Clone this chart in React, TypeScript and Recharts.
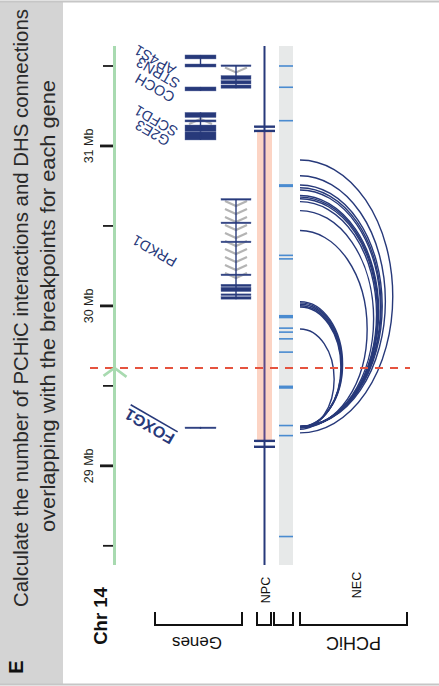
import React from 'react';
import {
  ComposedChart,
  XAxis,
  YAxis,
  Scatter,
  ReferenceArea,
  ReferenceLine,
  ReferenceDot,
} from 'recharts';

// ------------------------------------------------------------------ data
const axisTicks = [28.5, 29, 29.5, 30, 30.5, 31, 31.5];
const axisDomain: [number, number] = [28.38, 31.625];
const breakpointMb = 29.6125;

// genes: name, track column, start (Mb), end (Mb)
const genes = [
  { name: 'AP4S1', col: 0, start: 31.494, end: 31.569 },
  { name: 'STRN3', col: 1, start: 31.3606, end: 31.5025 },
  { name: 'COCH', col: 0, start: 31.344, end: 31.369 },
  { name: 'SCFD1', col: 0, start: 31.091, end: 31.21 },
  { name: 'G2E3', col: 0, start: 31.0375, end: 31.091 },
  { name: 'PRKD1', col: 1, start: 30.0419, end: 30.669 },
  { name: 'FOXG1', col: 0, start: 29.2355, end: 29.2395 },
];

const geneExons = [
  { gene: 'AP4S1', start: 31.544, end: 31.569 },
  { gene: 'AP4S1', start: 31.4935, end: 31.5125 },
  { gene: 'STRN3', start: 31.5005, end: 31.5025 },
  { gene: 'STRN3', start: 31.4156, end: 31.4406 },
  { gene: 'STRN3', start: 31.3875, end: 31.4094 },
  { gene: 'STRN3', start: 31.3606, end: 31.3813 },
  { gene: 'COCH', start: 31.344, end: 31.369 },
  { gene: 'SCFD1', start: 31.178, end: 31.21 },
  { gene: 'SCFD1', start: 31.15, end: 31.163 },
  { gene: 'G2E3', start: 31.09, end: 31.131 },
  { gene: 'G2E3', start: 31.0375, end: 31.088 },
  { gene: 'PRKD1', start: 30.6645, end: 30.6685 },
  { gene: 'PRKD1', start: 30.517, end: 30.521 },
  { gene: 'PRKD1', start: 30.398, end: 30.402 },
  { gene: 'PRKD1', start: 30.192, end: 30.196 },
  { gene: 'PRKD1', start: 30.1206, end: 30.1356 },
  { gene: 'PRKD1', start: 30.0894, end: 30.1169 },
  { gene: 'PRKD1', start: 30.0669, end: 30.0731 },
  { gene: 'PRKD1', start: 30.0419, end: 30.0581 },
  { gene: 'FOXG1', start: 29.2365, end: 29.2385 },
];

// intron regions with strand chevrons (1 = plus, -1 = minus)
const geneIntrons = [
  { gene: 'AP4S1', start: 31.5125, end: 31.544, strand: 1 },
  { gene: 'STRN3', start: 31.4406, end: 31.5005, strand: -1 },
  { gene: 'SCFD1', start: 31.131, end: 31.178, strand: 1 },
  { gene: 'PRKD1', start: 30.1356, end: 30.6645, strand: -1 },
];

const geneLabels = [
  { name: 'AP4S1', mb: 31.5375 },
  { name: 'STRN3', mb: 31.456 },
  { name: 'COCH', mb: 31.3625 },
  { name: 'SCFD1', mb: 31.156 },
  { name: 'G2E3', mb: 31.081 },
  { name: 'PRKD1', mb: 30.344 },
  { name: 'FOXG1', mb: 29.247 },
];

// NPC PCHiC domain
const npcDomain = { start: 29.156, end: 31.094 };
const npcCaps = [31.1206, 31.094, 29.156, 29.119];

// NEC DHS marks
const necDhsMb = [31.5, 31.367, 31.158, 30.752, 30.316, 30.294, 29.933, 29.861, 29.836, 29.794, 29.711, 29.492, 29.252, 29.189, 28.558];
const necDhsWeight = [1.6, 1.6, 1.6, 3, 1.6, 1.6, 3.4, 1.6, 1.6, 1.6, 1.6, 3.2, 1.6, 1.6, 1.6];

// NEC PCHiC interactions (from, to) in Mb
const pchicFrom = [29.206, 29.244, 29.244, 29.246, 29.246, 29.242, 29.244, 29.246, 29.244, 29.242, 29.236, 29.244, 29.246, 29.244, 29.242, 29.24, 29.228];
const pchicTo = [30.9125, 30.814, 30.756, 30.739, 30.725, 30.69, 30.68, 30.67, 30.652, 30.596, 30.471, 30.027, 30.019, 30.01, 30.001, 29.993, 29.856];

// ------------------------------------------------------------------ style / layout
const FONT = '"Liberation Sans", Arial, Helvetica, sans-serif';
const NAVY = '#27397a';
const GREEN = '#a8dab0';
const PINK = '#fcd4c4';
const NEC_GRAY = '#e7e9e9';
const DHS_BLUE = '#4a8bd0';
const RED = '#e5533f';
const CHEV = '#b4b4b4';

const W = 439;
const H = 686;
const AXIS_W = 114.5;
const COLS = [
  { x1: 185, x2: 216 },
  { x1: 221, x2: 251 },
];
const NPC_X = 264.5;
const NPC_BAND = [257, 272];
const CAP = [254, 275];
const NEC_X = [279, 293];
const ARC_X = 300;
const ARC_RATIO = 0.34;

const labelX: Record<string, number> = {
  AP4S1: 155, STRN3: 158, COCH: 155, SCFD1: 156, G2E3: 152.5, PRKD1: 154.5, FOXG1: 149.5,
};

const geneCol: Record<string, number> = {};
genes.forEach((g) => (geneCol[g.name] = g.col));

const necData = necDhsMb.map((mb, i) => ({ x: (NEC_X[0] + NEC_X[1]) / 2, y: mb, w: necDhsWeight[i] }));

// ------------------------------------------------------------------ shapes
const AxisTick = (props: any) => {
  const { x, y, payload } = props;
  const v = payload.value as number;
  const major = Math.abs(v - Math.round(v)) < 1e-6;
  return (
    <g>
      <line
        x1={major ? x - 14.5 : x - 11.5}
        x2={x - 1.5}
        y1={y}
        y2={y}
        stroke="#1a1a1a"
        strokeWidth={major ? 2.8 : 1.8}
      />
      {major && (
        <text
          transform={`translate(${x - 22} ${y}) rotate(-90)`}
          textAnchor="middle"
          fontSize={12.5}
          fontFamily={FONT}
          fill="#231f20"
        >
          {`${v} Mb`}
        </text>
      )}
    </g>
  );
};

const exonShape = (p: any) => {
  const { x, y, width, height } = p;
  const h = Math.max(height, 1.7);
  return <rect x={x} y={y + height / 2 - h / 2} width={width} height={h} fill={NAVY} stroke="#5b6ba0" strokeWidth={0.4} />;
};

const chevronShape = (dir: number) => (p: any) => {
  const { x, y, width, height } = p;
  const step = 8;
  const depth = 5;
  const inset = 4;
  const xl = x + inset;
  const xr = x + width - inset;
  const xm = (xl + xr) / 2;
  let d = '';
  for (let t = y + 1.5; t + depth <= y + height + 0.5; t += step) {
    if (dir < 0) d += `M${xl},${t}L${xm},${t + depth}L${xr},${t}`;
    else d += `M${xl},${t + depth}L${xm},${t}L${xr},${t + depth}`;
  }
  return <path d={d} fill="none" stroke={CHEV} strokeWidth={2.2} />;
};

const arcShape = (p: any) => {
  const { x, y, height } = p;
  const rx = height * ARC_RATIO;
  const ry = height / 2;
  return (
    <path
      d={`M${x},${y + height} A${rx},${ry} 0 0 0 ${x},${y}`}
      fill="none"
      stroke={NAVY}
      strokeWidth={1.4}
    />
  );
};

const necTickShape = (p: any) => {
  const { cy, payload } = p;
  return <rect x={NEC_X[0]} y={cy - payload.w / 2} width={NEC_X[1] - NEC_X[0]} height={payload.w} fill={DHS_BLUE} />;
};

const labelShape = (name: string) => (p: any) => {
  const { cx, cy } = p;
  const bold = name === 'FOXG1';
  return (
    <text
      x={cx}
      y={cy}
      transform={`rotate(210 ${cx} ${cy})`}
      textAnchor="middle"
      dominantBaseline="central"
      fontFamily={FONT}
      fontSize={bold ? 16 : 14.5}
      fontWeight={bold ? 700 : 400}
      fill={NAVY}
      style={bold ? { textDecoration: 'underline' } : undefined}
    >
      {name}
    </text>
  );
};

const breakpointMarker = (p: any) => {
  const { cx, cy } = p;
  return (
    <path
      d={`M${cx - 11},${cy + 8} L${cx},${cy} L${cx + 12},${cy + 9}`}
      fill="none"
      stroke={GREEN}
      strokeWidth={2.6}
    />
  );
};

// ------------------------------------------------------------------ overlay (frame, title, track labels)
const Bracket = ({ x1, x2 }: { x1: number; x2: number }) => (
  <path d={`M${x1},612 V625 H${x2} V612`} fill="none" stroke="#111" strokeWidth={2} />
);

const Overlay = () => (
  <svg width={W} height={H} style={{ position: 'absolute', left: 0, top: 0, pointerEvents: 'none' }}>
    <rect x={0} y={1} width={63} height={684} fill="#d4d4d4" />
    <line x1={0} x2={W} y1={1.5} y2={1.5} stroke="#c6c6c6" strokeWidth={2} />
    <line x1={0} x2={W} y1={684.5} y2={684.5} stroke="#c6c6c6" strokeWidth={2} />
    <g fontFamily={FONT} fill="#2a2a2a">
      <text
        transform="translate(28 308) rotate(-90)"
        textAnchor="middle"
        fontSize={20.5}
        textLength={598}
        lengthAdjust="spacingAndGlyphs"
      >
        Calculate the number of PCHiC interactions and DHS connections
      </text>
      <text
        transform="translate(55 306) rotate(-90)"
        textAnchor="middle"
        fontSize={20.5}
        textLength={452}
        lengthAdjust="spacingAndGlyphs"
      >
        overlapping with the breakpoints for each gene
      </text>
      <text transform="translate(23 667) rotate(-90)" textAnchor="middle" fontSize={20} fontWeight={700} fill="#111">
        E
      </text>
    </g>
    <g fontFamily={FONT} fill="#111">
      <text transform="translate(107 616) rotate(-90)" textAnchor="middle" fontSize={18.5} fontWeight={700}>
        Chr 14
      </text>
      <text transform="translate(270 590) rotate(-90)" textAnchor="middle" fontSize={12.5}>
        NPC
      </text>
      <text transform="translate(361 585) rotate(-90)" textAnchor="middle" fontSize={12.5}>
        NEC
      </text>
      <text transform="translate(197 637) rotate(180)" textAnchor="middle" fontSize={17}>
        Genes
      </text>
      <text transform="translate(353.5 637) rotate(180)" textAnchor="middle" fontSize={18}>
        PCHiC
      </text>
    </g>
    <Bracket x1={155} x2={242} />
    <Bracket x1={257} x2={271} />
    <Bracket x1={274} x2={293} />
    <Bracket x1={300} x2={407} />
  </svg>
);

// ------------------------------------------------------------------ chart
export default function App() {
  return (
    <div style={{ position: 'absolute', left: 0, top: 0, width: W, height: H, background: '#fff' }}>
      <ComposedChart width={W} height={H} margin={{ top: 46, right: 0, bottom: 121, left: 0 }}>
        <XAxis type="number" dataKey="x" domain={[AXIS_W, W]} hide allowDataOverflow />
        <YAxis
          type="number"
          dataKey="y"
          domain={axisDomain}
          ticks={axisTicks}
          interval={0}
          width={AXIS_W}
          tickSize={0}
          tickMargin={0}
          tickLine={false}
          axisLine={{ stroke: GREEN, strokeWidth: 3 }}
          tick={<AxisTick />}
          allowDataOverflow
        />

        {/* NPC track */}
        <ReferenceArea
          x1={NPC_BAND[0]}
          x2={NPC_BAND[1]}
          y1={npcDomain.start}
          y2={npcDomain.end}
          fill={PINK}
          fillOpacity={1}
          stroke="none"
          ifOverflow="visible"
        />
        <ReferenceLine
          segment={[{ x: NPC_X, y: axisDomain[0] }, { x: NPC_X, y: npcDomain.start }]}
          stroke={NAVY}
          strokeWidth={2}
          ifOverflow="visible"
        />
        <ReferenceLine
          segment={[{ x: NPC_X, y: npcDomain.start }, { x: NPC_X, y: npcDomain.end }]}
          stroke="#5b4a8b"
          strokeWidth={2}
          ifOverflow="visible"
        />
        <ReferenceLine
          segment={[{ x: NPC_X, y: npcDomain.end }, { x: NPC_X, y: axisDomain[1] }]}
          stroke={NAVY}
          strokeWidth={2}
          ifOverflow="visible"
        />
        {npcCaps.map((mb, i) => (
          <ReferenceLine
            key={`cap${i}`}
            segment={[{ x: CAP[0], y: mb }, { x: CAP[1], y: mb }]}
            stroke={NAVY}
            strokeWidth={2.4}
            ifOverflow="visible"
          />
        ))}

        {/* NEC track */}
        <ReferenceArea
          x1={NEC_X[0]}
          x2={NEC_X[1]}
          y1={axisDomain[0]}
          y2={axisDomain[1]}
          fill={NEC_GRAY}
          fillOpacity={1}
          stroke="none"
          ifOverflow="visible"
        />
        <Scatter data={necData} shape={necTickShape} isAnimationActive={false} />

        {/* genes */}
        {geneIntrons.map((g, i) => {
          const c = COLS[geneCol[g.gene]];
          return (
            <ReferenceArea
              key={`in${i}`}
              x1={c.x1}
              x2={c.x2}
              y1={g.start}
              y2={g.end}
              shape={chevronShape(g.strand)}
              ifOverflow="visible"
            />
          );
        })}
        {geneExons.map((e, i) => {
          const c = COLS[geneCol[e.gene]];
          return (
            <ReferenceArea
              key={`ex${i}`}
              x1={c.x1}
              x2={c.x2}
              y1={e.start}
              y2={e.end}
              shape={exonShape}
              ifOverflow="visible"
            />
          );
        })}
        {genes.map((g, i) => {
          const c = COLS[g.col];
          const cx = (c.x1 + c.x2) / 2;
          const pad = g.end - g.start < 0.01 ? 0.004 : 0;
          return (
            <ReferenceLine
              key={`gl${i}`}
              segment={[{ x: cx, y: g.start - pad }, { x: cx, y: g.end + pad }]}
              stroke={NAVY}
              strokeWidth={1.4}
              ifOverflow="visible"
            />
          );
        })}
        {geneLabels.map((l) => (
          <ReferenceDot
            key={`lab${l.name}`}
            x={labelX[l.name]}
            y={l.mb}
            r={0}
            shape={labelShape(l.name)}
            ifOverflow="visible"
          />
        ))}

        {/* NEC PCHiC arcs */}
        {pchicFrom.map((from, i) => (
          <ReferenceArea
            key={`arc${i}`}
            x1={ARC_X}
            x2={ARC_X + 1}
            y1={from}
            y2={pchicTo[i]}
            shape={arcShape}
            ifOverflow="visible"
          />
        ))}

        {/* breakpoint */}
        <ReferenceLine
          segment={[{ x: 90, y: breakpointMb }, { x: 410, y: breakpointMb }]}
          stroke={RED}
          strokeWidth={2}
          strokeDasharray="8 7"
          ifOverflow="visible"
        />
        <ReferenceDot x={AXIS_W} y={breakpointMb} r={0} shape={breakpointMarker} ifOverflow="visible" />
      </ComposedChart>
      <Overlay />
    </div>
  );
}
